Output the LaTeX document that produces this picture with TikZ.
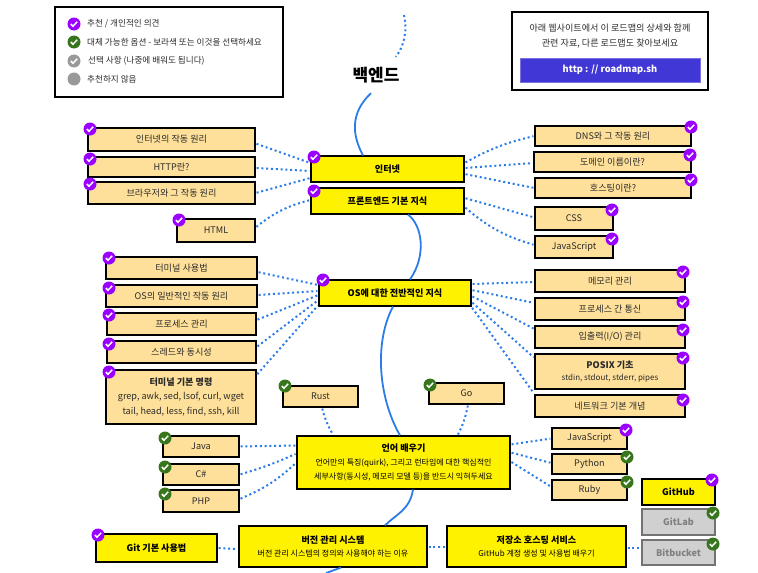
\documentclass[tikz,border=0pt]{standalone}
\usepackage{fontspec}
\setmainfont{Noto Sans CJK KR}
\usetikzlibrary{arrows}
\definecolor{leafcol}{HTML}{FFE09A}
\definecolor{greycol}{HTML}{D0D0D0}
\definecolor{roadcol}{HTML}{2B7CE9}
\definecolor{purplecol}{HTML}{9900FF}
\definecolor{greencol}{HTML}{38761D}
\definecolor{optcol}{HTML}{999999}
\definecolor{sitecol}{HTML}{4136D6}
\definecolor{inkcol}{HTML}{2A2A2A}
\newcommand{\mainsize}{\fontsize{9.1}{14.5}\selectfont}
\newcommand{\smallsize}{\fontsize{8.6}{14.5}\selectfont}
\newcommand{\subsize}{\fontsize{8}{13.5}\selectfont\mdseries}
\tikzset{
  plate/.style={draw=black,line width=1.2pt,inner sep=0pt,align=center,font=\mainsize,text=inkcol},
  leaf/.style={plate,fill=leafcol},
  topic/.style={plate,fill=yellow,text=black,font=\mainsize\bfseries},
  greyleaf/.style={plate,fill=greycol,draw=black!55,text=black!50,font=\mainsize\bfseries},
  chk/.style={circle,fill=#1,minimum size=13pt,inner sep=0pt,path picture={
    \draw[white,line width=1.5pt] (path picture bounding box.center) +(-3.2,0) -- +(-1,2.2) -- +(3.2,-2.2);}},
  dotlink/.style={color=roadcol,line width=2pt,dash pattern=on 2pt off 2.8pt,shorten >=1pt,shorten <=1pt},
  road/.style={color=roadcol,line width=1.8pt},
  keytext/.style={anchor=west,font=\smallsize,text=inkcol,inner sep=0pt}
}
\begin{document}
\begin{tikzpicture}[x=1pt,y=-1pt]
\useasboundingbox (0,0) rectangle (758,573);
% legend and site box
\node [plate,minimum width=228pt,minimum height=90pt] (legend) at (169,52) {};
\node [chk=purplecol] (keya) at (74,24) {};
\node [chk=greencol] (keyb) at (74,42) {};
\node [chk=optcol] (keyc) at (74,61) {};
\node [circle,fill=optcol,minimum size=13pt,inner sep=0pt] (keyd) at (74,79) {};
\node [keytext] (keyatext) at (87,24) {추천 / 개인적인 의견};
\node [keytext] (keybtext) at (87,42) {대체 가능한 옵션 - 보라색 또는 이것을 선택하세요};
\node [keytext] (keyctext) at (88,61) {선택 사항 (나중에 배워도 됩니다)};
\node [keytext] (keydtext) at (87,79) {추천하지 않음};
\node [plate,minimum width=196pt,minimum height=78pt] (infobox) at (610,51) {};
\node [font=\mainsize,text=inkcol,align=center] (infotext) at (610,36) {아래 웹사이트에서 이 로드맵의 상세와 함께\\[1pt]관련 자료, 다른 로드맵도 찾아보세요};
\node [fill=sitecol,draw=sitecol!70,text=white,font=\fontsize{9.3}{12}\selectfont\bfseries,minimum width=180pt,minimum height=24pt,inner sep=0pt] (site) at (610,70) {http : // roadmap.sh};
\node [font=\fontsize{17}{20}\selectfont\bfseries,text=black,minimum width=46pt,minimum height=36pt,inner sep=0pt] (title) at (376,75) {백엔드};
% topics
\node [topic,minimum width=153pt,minimum height=26pt] (inet) at (387.5,169) {인터넷};
\node [topic,minimum width=153pt,minimum height=26pt] (front) at (387.5,201) {프론트엔드 기본 지식};
\node [topic,minimum width=152pt,minimum height=26pt] (os) at (395,293) {OS에 대한 전반적인 지식};
\node [topic,minimum width=213pt,minimum height=53pt] (lang) at (403.5,462.5) {언어 배우기\\[-1pt]\subsize 언어만의 특징(quirk), 그리고 런타임에 대한 핵심적인\\\subsize 세부사항(동시성, 메모리 모델 등)을 반드시 익혀두세요};
\node [topic,minimum width=121pt,minimum height=28pt] (gitbasic) at (156.5,548) {Git 기본 사용법};
\node [topic,minimum width=188pt,minimum height=41pt] (vcs) at (333,546.5) {버전 관리 시스템\\[-2pt]\subsize 버전 관리 시스템의 정의와 사용해야 하는 이유};
\node [topic,minimum width=179pt,minimum height=41pt] (repo) at (536.5,546.5) {저장소 호스팅 서비스\\[-2pt]\subsize GitHub 계정 생성 및 사용법 배우기};
% internet side
\node [leaf,minimum width=167pt,minimum height=23pt] (howinet) at (171.5,139.5) {인터넷의 작동 원리};
\node [leaf,minimum width=167pt,minimum height=20pt] (http) at (171.5,167) {HTTP란?};
\node [leaf,minimum width=167pt,minimum height=22pt] (browser) at (171.5,193) {브라우저와 그 작동 원리};
\node [leaf,minimum width=78pt,minimum height=23pt] (html) at (216,230.5) {HTML};
\node [leaf,minimum width=156pt,minimum height=20pt] (dns) at (613,136) {DNS와 그 작동 원리};
\node [leaf,minimum width=157pt,minimum height=20pt] (domain) at (612.5,162) {도메인 이름이란?};
\node [leaf,minimum width=156pt,minimum height=20pt] (hosting) at (613,188) {호스팅이란?};
\node [leaf,minimum width=78pt,minimum height=23pt] (css) at (574,218.5) {CSS};
\node [leaf,minimum width=78pt,minimum height=22pt] (jsfront) at (574,247) {JavaScript};
% os side
\node [leaf,minimum width=151pt,minimum height=22pt] (termuse) at (181.5,268) {터미널 사용법};
\node [leaf,minimum width=151pt,minimum height=22pt] (oshow) at (181.5,296) {OS의 일반적인 작동 원리};
\node [leaf,minimum width=149pt,minimum height=22pt] (procman) at (181.5,324) {프로세스 관리};
\node [leaf,minimum width=149pt,minimum height=22pt] (threads) at (181.5,352) {스레드와 동시성};
\node [leaf,minimum width=150pt,minimum height=54pt] (termcmd) at (181,397) {\mainsize\bfseries 터미널 기본 명령\\[0pt]\mainsize grep, awk, sed, lsof, curl, wget\\\mainsize tail, head, less, find, ssh, kill};
\node [leaf,minimum width=150pt,minimum height=22pt] (memory) at (610,281) {메모리 관리};
\node [leaf,minimum width=150pt,minimum height=22pt] (ipc) at (610,309) {프로세스 간 통신};
\node [leaf,minimum width=150pt,minimum height=22pt] (iomgr) at (610,337) {입출력(I/O) 관리};
\node [leaf,minimum width=150pt,minimum height=35pt] (posix) at (610,371.5) {\mainsize\bfseries POSIX 기초\\[-3pt]\subsize stdin, stdout, stderr, pipes};
\node [leaf,minimum width=150pt,minimum height=22pt] (netbase) at (610,406) {네트워크 기본 개념};
% languages
\node [leaf,minimum width=75pt,minimum height=21pt] (rust) at (320.5,396.5) {Rust};
\node [leaf,minimum width=75pt,minimum height=21pt] (golang) at (466.5,393.5) {Go};
\node [leaf,minimum width=76pt,minimum height=21pt] (java) at (201,446.5) {Java};
\node [leaf,minimum width=76pt,minimum height=21pt] (csharp) at (201,474.5) {C\#};
\node [leaf,minimum width=76pt,minimum height=22pt] (php) at (201,501) {PHP};
\node [leaf,minimum width=75pt,minimum height=21pt] (jslang) at (589.5,438.5) {JavaScript};
\node [leaf,minimum width=75pt,minimum height=20pt] (python) at (589.5,464) {Python};
\node [leaf,minimum width=75pt,minimum height=20pt] (ruby) at (589.5,490) {Ruby};
% repo hosts
\node [topic,minimum width=73pt,minimum height=26pt] (github) at (678.5,492) {GitHub};
\node [greyleaf,minimum width=73pt,minimum height=26pt] (gitlab) at (678.5,522) {GitLab};
\node [greyleaf,minimum width=73pt,minimum height=25pt] (bitbucket) at (678.5,552.5) {Bitbucket};
% check marks
\node [chk=purplecol] (chkhowinet) at (90,129) {};
\node [chk=purplecol] (chkhttp) at (90,159) {};
\node [chk=purplecol] (chkbrowser) at (90,184) {};
\node [chk=purplecol] (chkhtml) at (179,220) {};
\node [chk=purplecol] (chkinet) at (314,157) {};
\node [chk=purplecol] (chkfront) at (314,191) {};
\node [chk=purplecol] (chkdns) at (691,127) {};
\node [chk=purplecol] (chkdomain) at (690,155) {};
\node [chk=purplecol] (chkhosting) at (691,180) {};
\node [chk=purplecol] (chkcss) at (612,210) {};
\node [chk=purplecol] (chkjsfront) at (612,239) {};
\node [chk=purplecol] (chktermuse) at (109,258) {};
\node [chk=purplecol] (chkoshow) at (109,288) {};
\node [chk=purplecol] (chkprocman) at (109,315) {};
\node [chk=purplecol] (chkthreads) at (109,344) {};
\node [chk=purplecol] (chktermcmd) at (109,372) {};
\node [chk=purplecol] (chkos) at (323,280) {};
\node [chk=purplecol] (chkmemory) at (683,272) {};
\node [chk=purplecol] (chkipc) at (683,302) {};
\node [chk=purplecol] (chkiomgr) at (683,330) {};
\node [chk=purplecol] (chkposix) at (683,358) {};
\node [chk=purplecol] (chknetbase) at (683,400) {};
\node [chk=greencol] (chkrust) at (285,386) {};
\node [chk=greencol] (chkgolang) at (430,385) {};
\node [chk=greencol] (chkjava) at (165,438) {};
\node [chk=greencol] (chkcsharp) at (165,467) {};
\node [chk=greencol] (chkphp) at (165,494) {};
\node [chk=purplecol] (chkgit) at (98,535) {};
\node [chk=purplecol] (chkjslang) at (626,430) {};
\node [chk=greencol] (chkpython) at (627,457) {};
\node [chk=greencol] (chkruby) at (627,482) {};
\node [chk=purplecol] (chkgithub) at (712,480) {};
\node [chk=greencol] (chkgitlab) at (713,513) {};
\node [chk=greencol] (chkbitbucket) at (713,544) {};
% main road
\coordinate (roadtop) at (404,15);
\coordinate (roadend) at (326,573);
\draw [road,line width=2pt,dash pattern=on 2pt off 2.8pt] (roadtop) .. controls (408,32) and (403,48) .. ([xshift=-4pt]title.north east);
\draw [road] ([xshift=-5pt]title.south) .. controls (350,113) and (352,135) .. ([xshift=-24.5pt]inet.north);
\draw [road] ([xshift=20.5pt]front.south) .. controls (422,225) and (427,255) .. ([xshift=15pt]os.north);
\draw [road] ([xshift=-2pt]os.south) .. controls (375,340) and (377,395) .. ([xshift=-3.5pt]lang.north);
\draw [road] ([xshift=9.5pt]lang.south) .. controls (410,510) and (395,515) .. ([xshift=52pt]vcs.north);
\draw [road] ([xshift=8pt]vcs.south) to (roadend);
% internet links
\draw [dotlink] ([yshift=-4pt]howinet.east) to ([yshift=6pt]inet.west);
\draw [dotlink] ([yshift=-1pt]http.east) to ([yshift=-2pt]inet.west);
\draw [dotlink] (browser.east) to ([yshift=-9pt]inet.west);
\draw [dotlink] ([yshift=3pt]html.east) to [bend left=12] ([yshift=1pt]front.west);
\draw [dotlink] ([yshift=6pt]inet.east) to [bend left=8] (dns.west);
\draw [dotlink] ([yshift=1pt]inet.east) to ([yshift=-1pt]domain.west);
\draw [dotlink] ([yshift=-5pt]inet.east) to (hosting.west);
\draw [dotlink] ([yshift=3pt]front.east) to ([yshift=1pt]css.west);
\draw [dotlink] ([yshift=-6pt]front.east) to [bend right=12] ([yshift=2pt]jsfront.west);
% os links
\draw [dotlink] ([yshift=-4pt]termuse.east) to ([yshift=8pt]os.west);
\draw [dotlink] ([yshift=1pt]oshow.east) to ([yshift=2pt]os.west);
\draw [dotlink] ([yshift=4pt]procman.east) to ([yshift=-2pt]os.west);
\draw [dotlink] ([yshift=5pt]threads.east) to ([yshift=-7pt]os.west);
\draw [dotlink] ([yshift=22pt]termcmd.east) to ([yshift=-12pt]os.west);
\draw [dotlink] ([yshift=9pt]os.east) to ([yshift=-1pt]memory.west);
\draw [dotlink] ([yshift=3pt]os.east) to ([yshift=6pt]ipc.west);
\draw [dotlink] ([yshift=-3pt]os.east) to ([yshift=8pt]iomgr.west);
\draw [dotlink] ([yshift=-9pt]os.east) to ([yshift=13.5pt]posix.west);
\draw [dotlink] ([yshift=-14pt]os.east) to ([yshift=12pt]netbase.west);
% language links
\draw [dotlink] ([xshift=1.5pt]rust.south) to [bend right=8] ([xshift=-70pt]lang.north);
\draw [dotlink] ([xshift=1.5pt]golang.south) to [bend left=8] ([xshift=54pt]lang.north);
\draw [dotlink] (java.east) to ([yshift=17pt]lang.west);
\draw [dotlink] (csharp.east) to [bend right=4] ([yshift=9pt]lang.west);
\draw [dotlink] ([yshift=2pt]php.east) to [bend right=10] (lang.west);
\draw [dotlink] ([yshift=18pt]lang.east) to (jslang.west);
\draw [dotlink] ([yshift=10pt]lang.east) to ([yshift=1pt]python.west);
\draw [dotlink] ([yshift=1pt]lang.east) to ([yshift=3pt]ruby.west);
% bottom links
\draw [dotlink] (gitbasic.east) to ([yshift=-2.5pt]vcs.west);
\draw [dotlink] (vcs.east) to (repo.west);
\draw [dotlink] ([yshift=-1.5pt]repo.east) to ([yshift=4.5pt]bitbucket.west);
\end{tikzpicture}
\end{document}
